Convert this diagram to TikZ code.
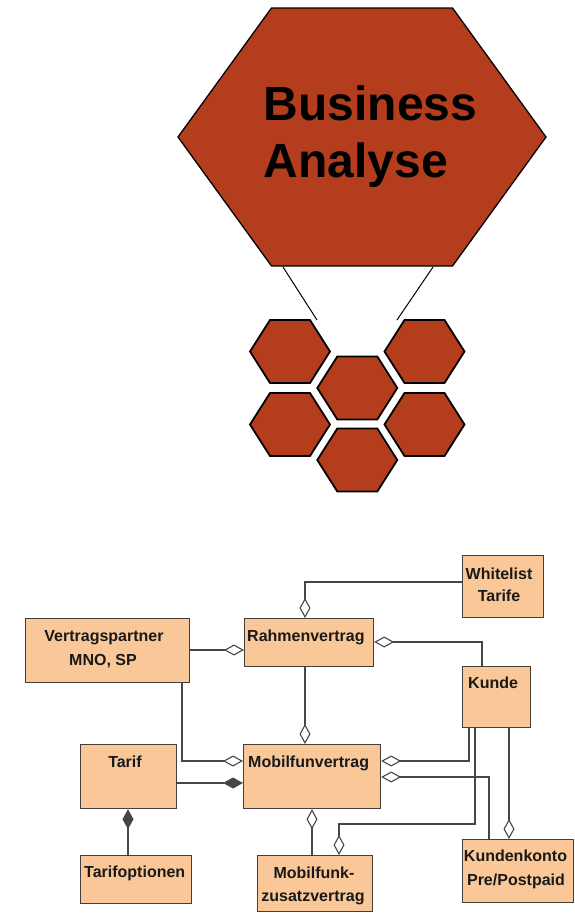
\documentclass[tikz,border=0pt]{standalone}
\usepackage{fontspec}
\setmainfont{Liberation Sans}
\usetikzlibrary{arrows.meta,calc}
\definecolor{hexfill}{RGB}{179,61,29}
\definecolor{boxfill}{RGB}{250,200,152}
\definecolor{boxline}{RGB}{70,62,58}
\definecolor{conn}{RGB}{70,70,70}
\newcommand{\myhexa}[6]{%
  \draw[#6] ($(#1)+(-#2,0)$) -- ++(#2-#3,-#4) -- ++(2*#3,0) -- ++(#2-#3,#4)
    -- ++(-#2+#3,#4) -- ++(-2*#3,0) -- cycle;}
\tikzset{
  hexstyle/.style={fill=hexfill,draw=black,line join=miter},
  umlbox/.style={draw=boxline,fill=boxfill,line width=1.2pt,anchor=north west,inner sep=0pt},
  lbl/.style={font=\bfseries\fontsize{16}{24}\selectfont,inner sep=0pt,text=black!90},
  conline/.style={draw=conn,line width=1.2pt},
  odia/.style={conline,-{Diamond[open,length=20pt,width=11pt,line width=1.1pt]}},
  fdia/.style={conline,-{Diamond[length=20pt,width=11pt,fill=conn]}},
}
\begin{document}
\begin{tikzpicture}[x=1pt,y=-1pt]
\useasboundingbox (0,0) rectangle (574,913);
% hexagons
\coordinate (big) at (362,137);
\myhexa{big}{184}{90.5}{129}{}{hexstyle,line width=1.3pt}
\node[font=\bfseries\fontsize{48}{58}\selectfont,anchor=base west,inner sep=0pt] (bt1) at (263.5,120) {Business};
\node[font=\bfseries\fontsize{48}{58}\selectfont,anchor=base west,inner sep=0pt] (bt2) at (263.5,177) {Analyse};
\coordinate (h1) at (290,351.5);
\coordinate (h2) at (424.5,351.5);
\coordinate (h3) at (357.3,388);
\coordinate (h4) at (290,424.5);
\coordinate (h5) at (424.5,424.5);
\coordinate (h6) at (357.3,460);
\foreach \h in {h1,h2,h3,h4,h5,h6}{\myhexa{\h}{40}{20}{31.5}{}{hexstyle,line width=1.8pt}}
\coordinate (la) at (283,267);
\coordinate (lb) at (317,320);
\coordinate (ra) at (433,267);
\coordinate (rb) at (397,320);
\draw[line width=1pt] (la) -- (lb);
\draw[line width=1pt] (ra) -- (rb);
% UML boxes
\node[umlbox,minimum width=81pt,minimum height=62pt] (whitelist) at (462,555) {};
\node[umlbox,minimum width=129pt,minimum height=48pt] (rahmen) at (244,618) {};
\node[umlbox,minimum width=164pt,minimum height=64pt] (vp) at (25,618) {};
\node[umlbox,minimum width=68pt,minimum height=61pt] (kunde) at (462,666) {};
\node[umlbox,minimum width=96pt,minimum height=64pt] (tarif) at (80,744) {};
\node[umlbox,minimum width=137pt,minimum height=64pt] (mobil) at (243,744) {};
\node[umlbox,minimum width=111pt,minimum height=48pt] (tarifopt) at (80,855) {};
\node[umlbox,minimum width=115pt,minimum height=56pt] (zusatz) at (257,855) {};
\node[umlbox,minimum width=111pt,minimum height=63pt] (konto) at (462,839) {};
% labels
\node[lbl,anchor=base] (t1) at (499,579) {Whitelist};
\node[lbl,anchor=base] (t2) at (499,601.5) {Tarife};
\node[lbl,anchor=base] (t3) at (104,641) {Vertragspartner};
\node[lbl,anchor=base] (t4) at (103,665) {MNO, SP};
\node[lbl,anchor=base west] (t5) at (247,641) {Rahmenvertrag};
\node[lbl,anchor=base west] (t6) at (468,688) {Kunde};
\node[lbl,anchor=base] (t7) at (125,767.5) {Tarif};
\node[lbl,anchor=base west] (t8) at (248,767.5) {Mobilfunvertrag};
\node[lbl,anchor=base west] (t9) at (84,877.7) {Tarifoptionen};
\node[lbl,anchor=base] (t10) at (314,878) {Mobilfunk-};
\node[lbl,anchor=base] (t11) at (313,901.7) {zusatzvertrag};
\node[lbl,anchor=base] (t12) at (515.5,861.7) {Kundenkonto};
\node[lbl,anchor=base] (t13) at (516,885.7) {Pre/Postpaid};
% connectors
\draw[odia] ($(whitelist.north west)+(0,27)$) -| ($(rahmen.north west)+(61,0)$);
\draw[odia] ($(vp.north east)+(0,32)$) -- ($(rahmen.north west)+(0,32)$);
\draw[odia] ($(kunde.north west)+(20,0)$) |- ($(rahmen.north east)+(0,24)$);
\draw[odia] ($(rahmen.south west)+(61,0)$) -- ($(mobil.north west)+(62,0)$);
\draw[odia] ($(vp.south west)+(157,0)$) |- ($(mobil.north west)+(0,17)$);
\draw[fdia] ($(tarif.north east)+(0,39)$) -- ($(mobil.north west)+(0,39)$);
\draw[fdia] ($(tarifopt.north west)+(48,0)$) -- ($(tarif.south west)+(48,0)$);
\draw[odia] ($(zusatz.north west)+(55,0)$) -- ($(mobil.south west)+(69,0)$);
\draw[odia] ($(kunde.south west)+(7,0)$) |- ($(mobil.north east)+(0,17)$);
\draw[odia] ($(konto.north west)+(27,0)$) |- ($(mobil.north east)+(0,33)$);
\draw[odia] ($(kunde.south west)+(13,0)$) |- ($(zusatz.north west)+(82,-31)$) -- ($(zusatz.north west)+(82,0)$);
\draw[odia] ($(kunde.south west)+(47,0)$) -- ($(konto.north west)+(47,0)$);
\end{tikzpicture}
\end{document}
